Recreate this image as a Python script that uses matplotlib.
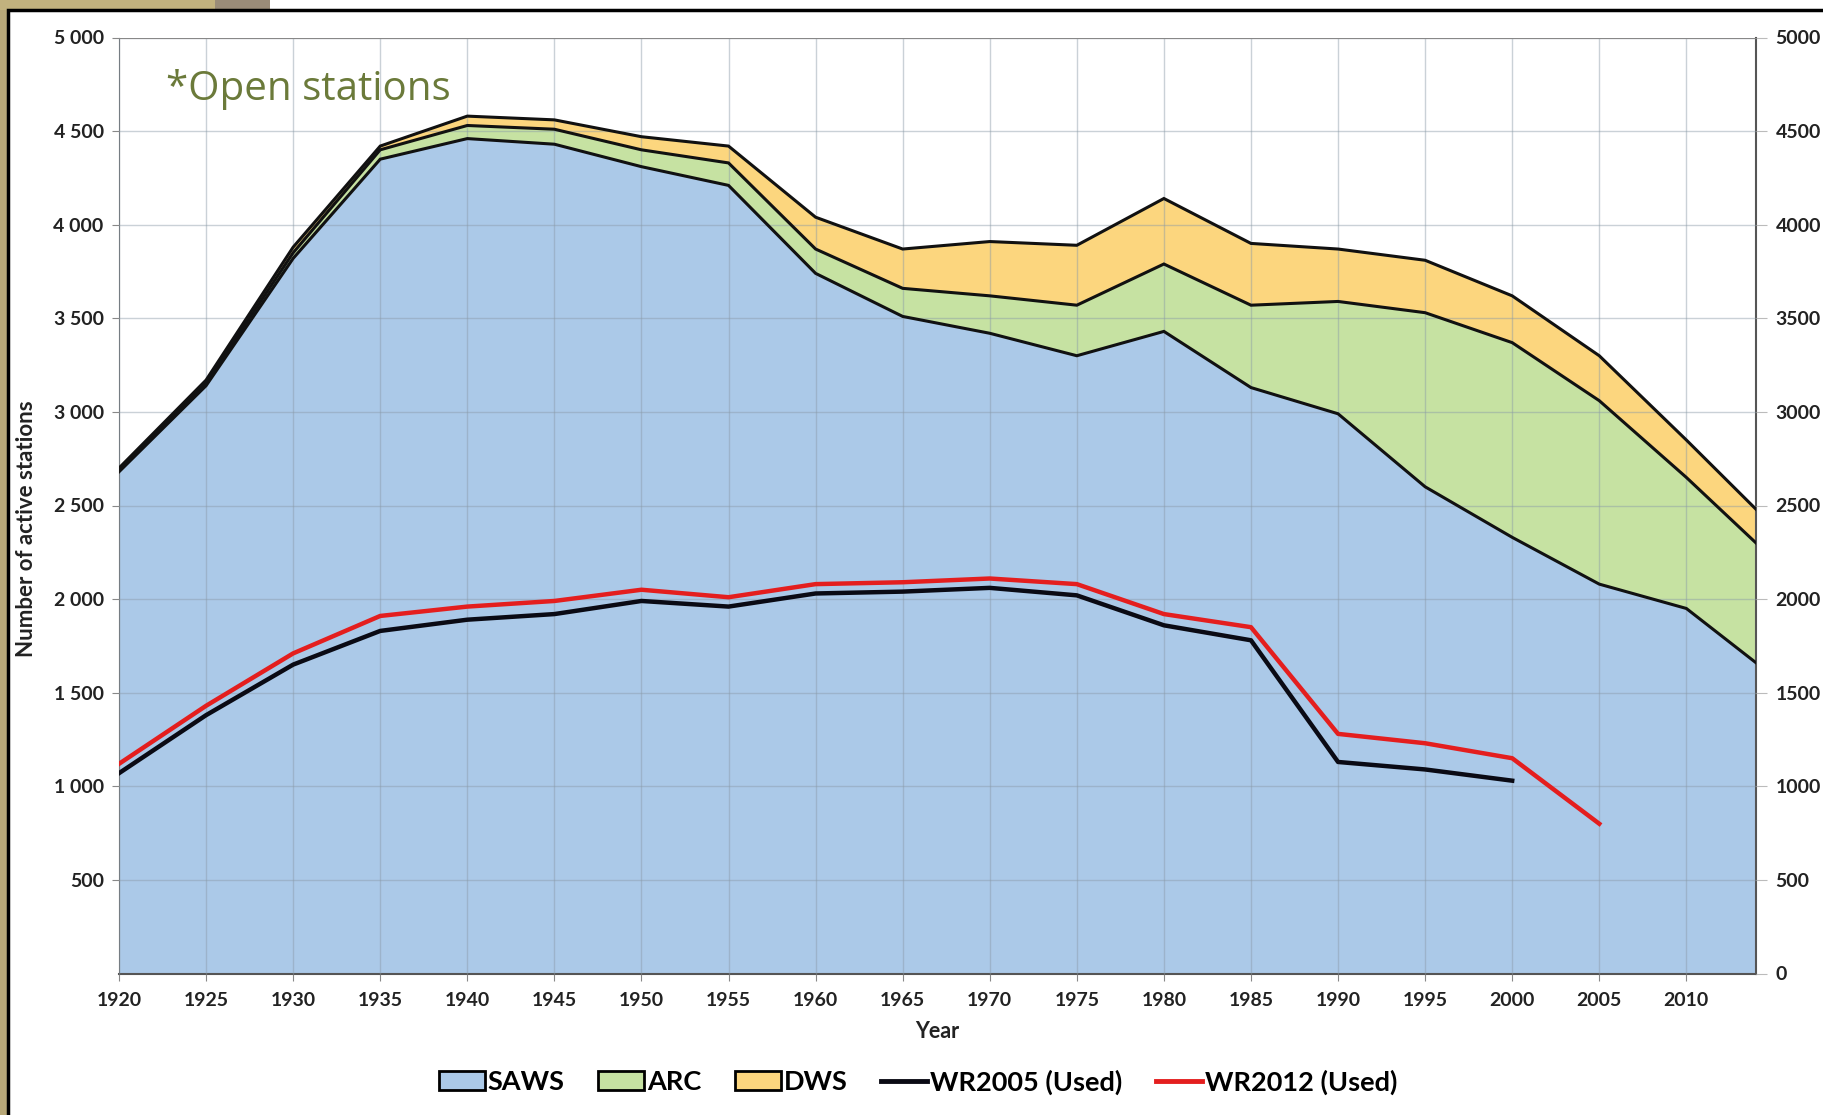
import matplotlib
matplotlib.use("Agg")
import matplotlib.pyplot as plt
from matplotlib.patches import Rectangle, Patch
from matplotlib.lines import Line2D
import numpy as np

years = [1920, 1925, 1930, 1935, 1940, 1945, 1950, 1955, 1960, 1965, 1970,
         1975, 1980, 1985, 1990, 1995, 2000, 2005, 2010, 2014]
saws = [2680, 3140, 3820, 4350, 4460, 4430, 4310, 4210, 3740, 3510, 3420,
        3300, 3430, 3130, 2990, 2600, 2330, 2080, 1950, 1660]
saws_arc = [2690, 3155, 3850, 4400, 4530, 4510, 4400, 4330, 3870, 3660, 3620,
            3570, 3790, 3570, 3590, 3530, 3370, 3060, 2650, 2300]
total = [2700, 3170, 3880, 4420, 4580, 4560, 4470, 4420, 4040, 3870, 3910,
         3890, 4140, 3900, 3870, 3810, 3620, 3300, 2850, 2480]
arc = [b - a for a, b in zip(saws, saws_arc)]
dws = [c - b for b, c in zip(saws_arc, total)]

wr2005_years = [1920, 1925, 1930, 1935, 1940, 1945, 1950, 1955, 1960, 1965,
                1970, 1975, 1980, 1985, 1990, 1995, 2000]
wr2005 = [1070, 1380, 1650, 1830, 1890, 1920, 1990, 1960, 2030, 2040,
          2060, 2020, 1860, 1780, 1130, 1090, 1030]
wr2012_years = [1920, 1925, 1930, 1935, 1940, 1945, 1950, 1955, 1960, 1965,
                1970, 1975, 1980, 1985, 1990, 1995, 2000, 2005]
wr2012 = [1120, 1430, 1710, 1910, 1960, 1990, 2050, 2010, 2080, 2090,
          2110, 2080, 1920, 1850, 1280, 1230, 1150, 800]

xticks = list(range(1920, 2011, 5))
left_ticks = [500, 1000, 1500, 2000, 2500, 3000, 3500, 4000, 4500, 5000]
left_labels = ["500", "1 000", "1 500", "2 000", "2 500",
               "3 000", "3 500", "4 000", "4 500", "5 000"]
right_ticks = [0, 500, 1000, 1500, 2000, 2500, 3000, 3500, 4000, 4500, 5000]

c_saws = "#abc9e8"
c_arc = "#c6e2a2"
c_dws = "#fcd67e"

plt.rcParams['font.family'] = ['Lato', 'DejaVu Sans']

W, H = 1823, 1115
fig = plt.figure(figsize=(W / 100, H / 100), dpi=100)
fig.patch.set_facecolor("white")

# background frame
fig.patches.append(Rectangle((0, 0), 8 / W, 1, transform=fig.transFigure,
                             facecolor="#b8a878", edgecolor="none", zorder=0))
fig.patches.append(Rectangle((0, 1 - 10 / H), 215 / W, 10 / H, transform=fig.transFigure,
                             facecolor="#c2b27e", edgecolor="none", zorder=0))
fig.patches.append(Rectangle((215 / W, 1 - 10 / H), 55 / W, 10 / H, transform=fig.transFigure,
                             facecolor="#9a8c78", edgecolor="none", zorder=0))
fig.patches.append(Rectangle((8 / W, -0.01), 1.0, 1 - 10 / H + 0.01, transform=fig.transFigure,
                             facecolor="white", edgecolor="black", linewidth=2.5, zorder=0.5))

ax = fig.add_axes([119 / W, 1 - 973.5 / H, (1756 - 119) / W, (973.5 - 37.5) / H])
ax.set_zorder(2)

s = np.array(saws, float)
sa = s + np.array(arc, float)
t = sa + np.array(dws, float)
ax.fill_between(years, 0, s, facecolor=c_saws, edgecolor="none", zorder=1)
ax.fill_between(years, s, sa, facecolor=c_arc, edgecolor="none", zorder=1)
ax.fill_between(years, sa, t, facecolor=c_dws, edgecolor="none", zorder=1)
for yv in (s, sa, t):
    ax.plot(years, yv, color="#111111", lw=2.2, zorder=4, solid_joinstyle="miter")

ax.plot(wr2005_years, wr2005, color="#0a0a14", lw=3.2, zorder=5)
ax.plot(wr2012_years, wr2012, color="#e41e1e", lw=3.2, zorder=5)

ax.set_xlim(1920, 2014)
ax.set_ylim(0, 5000)
ax.set_xticks(xticks)
ax.set_xticklabels([str(x) for x in xticks], fontsize=14, fontweight="bold", color="#222222")
ax.set_yticks(left_ticks)
ax.set_yticklabels(left_labels, fontsize=14, fontweight="bold", color="#222222")
ax.grid(True, color="#8a9aa8", lw=1.0, alpha=0.45, zorder=3)
ax.set_axisbelow(False)
ax.spines["top"].set_visible(False)
ax.spines["left"].set_color("#666666")
ax.spines["bottom"].set_color("#555555")
ax.spines["bottom"].set_linewidth(1.5)
ax.spines["right"].set_color("#555555")
ax.spines["right"].set_linewidth(1.5)
ax.tick_params(axis="x", length=5, color="#888888", pad=8)
ax.tick_params(axis="y", length=5, color="#888888", pad=6)
ax.axhline(5000, color="#888888", lw=1.5, zorder=3)

ax2 = ax.twinx()
ax2.set_ylim(0, 5000)
ax2.set_yticks(right_ticks)
ax2.set_yticklabels([str(v) for v in right_ticks], fontsize=14, fontweight="bold", color="#222222")
ax2.tick_params(axis="y", length=8, color="#bbbbbb", pad=6)
for sp in ax2.spines.values():
    sp.set_visible(False)

ax.set_xlabel("Year", fontsize=15.5, fontweight="bold", color="#222222", labelpad=9)
ax.set_ylabel("Number of active stations", fontsize=16, fontweight="bold", color="#222222")
ax.yaxis.set_label_coords(-0.05, 0.475)

ax.text(0.029, 0.944, "*Open stations", transform=ax.transAxes, fontsize=29,
        color="#6b7a3a", family=["Open Sans", "DejaVu Sans"], va="center", ha="left")

handles = [
    Patch(facecolor=c_saws, edgecolor="black", lw=2, label="SAWS"),
    Patch(facecolor=c_arc, edgecolor="black", lw=2, label="ARC"),
    Patch(facecolor=c_dws, edgecolor="black", lw=2, label="DWS"),
    Line2D([], [], color="#0a0a14", lw=3.5, label="WR2005 (Used)"),
    Line2D([], [], color="#e41e1e", lw=3.5, label="WR2012 (Used)"),
]
fig.legend(handles=handles, loc="center", bbox_to_anchor=(918 / W, 1 - 1082 / H), ncol=5,
           frameon=False, prop={"family": "Lato", "weight": "bold", "size": 19.5},
           handlelength=1.7, handletextpad=0.1, columnspacing=1.25)

fig.savefig("out.png", dpi=100, facecolor=fig.get_facecolor())
